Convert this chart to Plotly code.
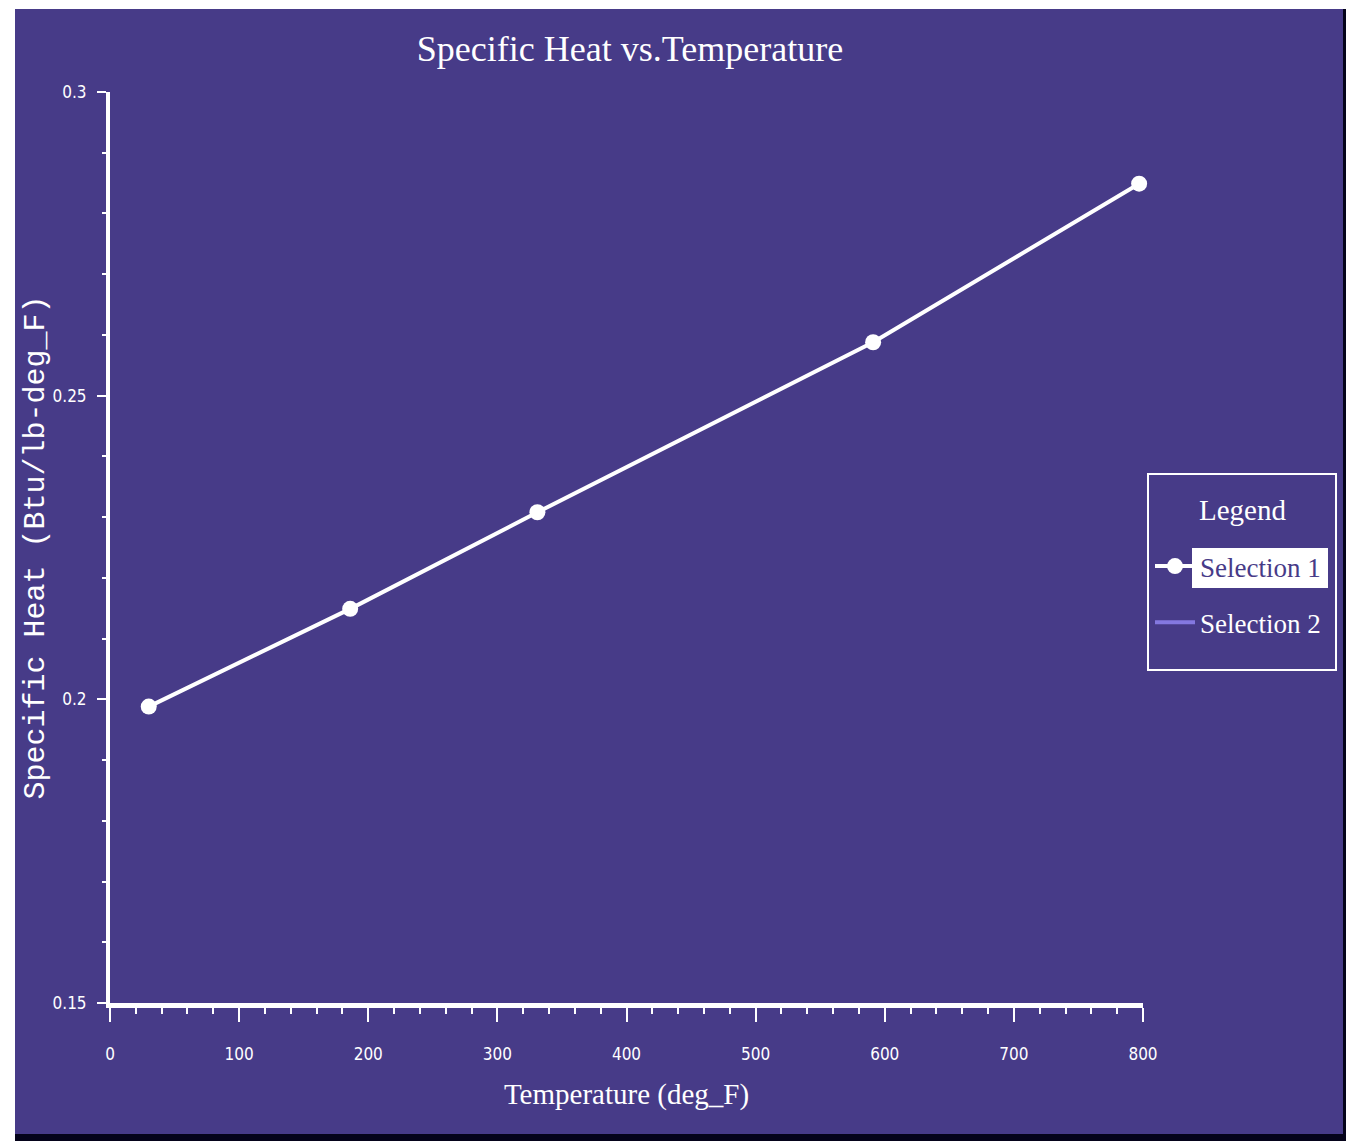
import plotly.graph_objects as go

# ---- data ----
temperature_F = [30, 186, 331, 591, 797]
specific_heat = [0.1988, 0.2149, 0.2308, 0.2588, 0.2849]
series_names = ["Selection 1", "Selection 2"]
legend_title = "Legend"
x_tick_vals = [0, 100, 200, 300, 400, 500, 600, 700, 800]
y_tick_vals = [0.15, 0.2, 0.25, 0.3]
y_tick_text = ["0.15", "0.2", "0.25", "0.3"]

# ---- style ----
W, H = 1346, 1141
ML, MR, MT, MB = 110, 203, 92, 138
PURPLE = "#473B88"
LIGHT = "#8478E0"
SERIF = "Liberation Serif, Times New Roman, serif"
NARROW = "DejaVu Sans Condensed, Liberation Sans Narrow, Liberation Sans, sans-serif"
MONO = "Liberation Mono, DejaVu Sans Mono, monospace"

PW = W - ML - MR
PH = H - MT - MB


def px2x(px):
    return (px - ML) / PW


def py2y(py):
    return (H - MB - py) / PH


fig = go.Figure()
fig.add_trace(go.Scatter(
    x=temperature_F, y=specific_heat, mode="lines+markers",
    name="<span style='color:%s'>%s</span>" % (PURPLE, series_names[0]),
    legendgroup="a", cliponaxis=False,
    line=dict(color="white", width=4),
    marker=dict(color="white", size=16, symbol="circle"),
))
fig.add_trace(go.Scatter(
    x=[None], y=[None], mode="lines",
    name=series_names[1], legendgroup="b",
    line=dict(color=LIGHT, width=4),
))

shapes = [
    # purple panel
    dict(type="rect", xref="paper", yref="paper", layer="below",
         x0=px2x(15), x1=px2x(1343), y0=py2y(1134), y1=py2y(9),
         fillcolor=PURPLE, line=dict(width=0)),
    # black bottom / right shadow
    dict(type="rect", xref="paper", yref="paper", layer="below",
         x0=px2x(15), x1=px2x(W + 5), y0=py2y(H + 5), y1=py2y(1134),
         fillcolor="#05031a", line=dict(width=0)),
    dict(type="rect", xref="paper", yref="paper", layer="below",
         x0=px2x(1343), x1=px2x(W + 5), y0=py2y(H + 5), y1=py2y(9),
         fillcolor="#05031a", line=dict(width=0)),
    # legend frame
    dict(type="rect", xref="paper", yref="paper", layer="above",
         x0=px2x(1148), x1=px2x(1336), y0=py2y(670), y1=py2y(474),
         fillcolor="rgba(0,0,0,0)", line=dict(color="white", width=2)),
    # highlight behind "Selection 1"
    dict(type="rect", xref="paper", yref="paper", layer="above",
         x0=px2x(1192), x1=px2x(1328), y0=py2y(588), y1=py2y(548),
         fillcolor="white", line=dict(width=0)),
]

fig.update_layout(
    width=W, height=H,
    margin=dict(l=ML, r=MR, t=MT, b=MB, autoexpand=False),
    paper_bgcolor="white",
    plot_bgcolor=PURPLE,
    shapes=shapes,
    annotations=[dict(
        text=legend_title, xref="paper", yref="paper",
        x=px2x(1242), y=py2y(510), xanchor="center", yanchor="middle",
        showarrow=False, font=dict(family=SERIF, size=29, color="white"),
    )],
    title=dict(text="Specific Heat vs.Temperature", x=630 / W,
               xanchor="center", y=1 - 48 / H, yanchor="middle",
               font=dict(family=SERIF, size=36, color="white")),
    showlegend=True,
    legend=dict(
        x=px2x(1150), y=py2y(542), xanchor="left", yanchor="top",
        bgcolor="rgba(0,0,0,0)", borderwidth=0,
        font=dict(family=SERIF, size=27, color="white"),
        tracegroupgap=18, itemwidth=40,
    ),
    xaxis=dict(
        range=[0, 800], tickvals=x_tick_vals, showgrid=False, zeroline=False,
        showline=True, linecolor="white", linewidth=5,
        ticks="outside", ticklen=14, tickwidth=2, tickcolor="white",
        minor=dict(dtick=20, ticks="outside", ticklen=6, tickwidth=2, tickcolor="white"),
        tickfont=dict(family=NARROW, size=17, color="white"),
        ticklabelstandoff=18,
        title=dict(text="Temperature (deg_F)", standoff=22,
                   font=dict(family=SERIF, size=29, color="white")),
    ),
    yaxis=dict(
        range=[0.15, 0.3], tickvals=y_tick_vals, ticktext=y_tick_text,
        showgrid=False, zeroline=False,
        showline=True, linecolor="white", linewidth=4,
        ticks="outside", ticklen=9, tickwidth=2, tickcolor="white",
        minor=dict(dtick=0.01, ticks="outside", ticklen=4, tickwidth=2, tickcolor="white"),
        tickfont=dict(family=NARROW, size=17, color="white"),
        ticklabelstandoff=7,
        title=dict(text="Specific Heat (Btu/lb-deg_F)", standoff=0,
                   font=dict(family=MONO, size=30, color="white")),
    ),
)

fig.write_html(
    "out.html",
    config={"displayModeBar": False},
    post_script="document.body.style.margin='0';document.body.style.overflow='hidden';",
)
